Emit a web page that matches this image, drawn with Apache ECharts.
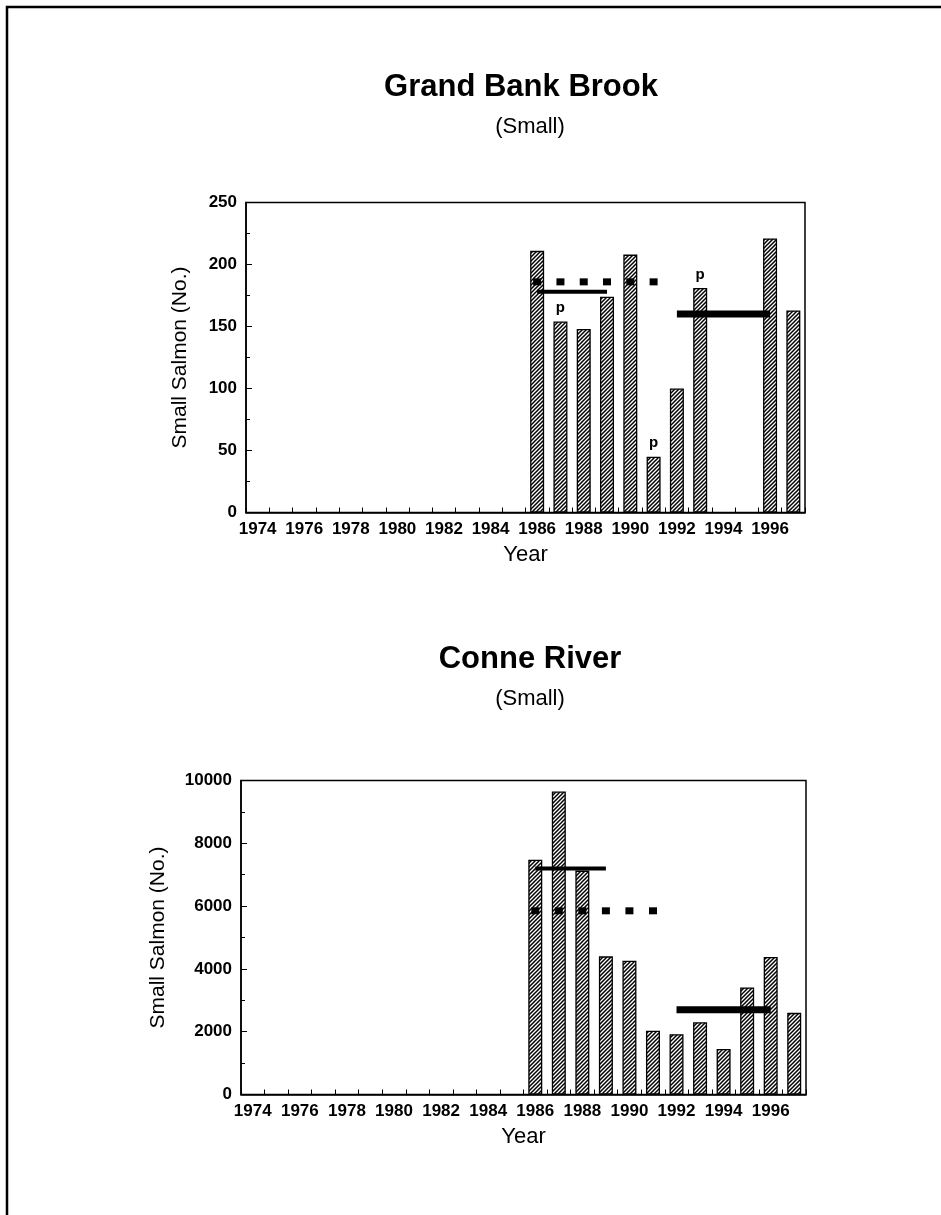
<!DOCTYPE html>
<html><head><meta charset="utf-8">
<script src="https://cdn.jsdelivr.net/npm/echarts@6/dist/echarts.min.js"></script>
<style>html,body{margin:0;padding:0;background:#fff}#c{width:941px;height:1215px}</style>
</head><body><div id="c"></div><script>
// ---- data ----
const years = ['1974','1975','1976','1977','1978','1979','1980','1981','1982','1983','1984','1985',
               '1986','1987','1988','1989','1990','1991','1992','1993','1994','1995','1996','1997'];
const gbbSmall = [null,null,null,null,null,null,null,null,null,null,null,null,
                  211,154,148,174,208,45,100,181,null,null,221,163];
const gbbFlags = ['','','','','','','','','','','','',
                  '','p','','','','p','','p','','','',''];
const gbbDotted = { value: 186, from: '1986', to: '1991' };
const gbbSolidA = { value: 178, from: '1986', to: '1989' };
const gbbSolidB = { value: 160, from: '1992', to: '1996' };
const conneSmall = [null,null,null,null,null,null,null,null,null,null,null,null,
                    7480,9650,7130,4400,4260,2030,1920,2300,1450,3410,4380,2600];
const conneDotted = { value: 5850, from: '1986', to: '1991' };
const conneSolidA = { value: 7200, from: '1986', to: '1989' };
const conneSolidB = { value: 2700, from: '1992', to: '1996' };
const gbbYTicks = { min: 0, max: 250, interval: 50 };
const conneYTicks = { min: 0, max: 10000, interval: 2000 };

// ---- helpers ----
const FONT = "'Liberation Sans', Arial, Helvetica, sans-serif";
function spanSeries(ref) {
  const i0 = years.indexOf(ref.from), i1 = years.indexOf(ref.to);
  return years.map((y, i) => (i >= i0 && i <= i1) ? ref.value : '-');
}
function hatch() {
  const c = document.createElement('canvas');
  const s = 4; c.width = s; c.height = s;
  const g = c.getContext('2d');
  g.fillStyle = '#fff'; g.fillRect(0, 0, s, s);
  g.strokeStyle = '#000'; g.lineWidth = 1.5;
  g.beginPath();
  g.moveTo(0, s); g.lineTo(s, 0);
  g.moveTo(-1, 1); g.lineTo(1, -1);
  g.moveTo(s - 1, s + 1); g.lineTo(s + 1, s - 1);
  g.stroke();
  return c;
}
const pattern = { image: hatch(), repeat: 'repeat' };

function barData(vals, flags) {
  return vals.map((v, i) => {
    if (v == null) return '-';
    if (flags && flags[i]) {
      return { value: v, label: { show: true, formatter: flags[i], position: 'top', distance: 6,
        fontFamily: FONT, fontWeight: 'bold', fontSize: 15, color: '#000' } };
    }
    return v;
  });
}

function xAxis(gi) {
  return {
    type: 'category', gridIndex: gi, data: years, boundaryGap: true,
    name: 'Year', nameLocation: 'middle', nameGap: 31,
    nameTextStyle: { fontFamily: FONT, fontSize: 22, color: '#000' },
    axisLine: { lineStyle: { color: '#000', width: 1.5 } },
    axisTick: { show: true, inside: true, length: 5, interval: 0, lineStyle: { color: '#000', width: 1 } },
    axisLabel: { interval: 1, fontFamily: FONT, fontWeight: 'bold', fontSize: 17, color: '#000', margin: 8 },
    splitLine: { show: false }
  };
}
function yAxis(gi, t, gap) {
  return {
    type: 'value', gridIndex: gi, min: t.min, max: t.max, interval: t.interval,
    name: 'Small Salmon (No.)', nameLocation: 'middle', nameGap: gap, nameRotate: 90,
    nameTextStyle: { fontFamily: FONT, fontSize: 21, color: '#000' },
    axisLine: { show: true, lineStyle: { color: '#000', width: 1.5 } },
    axisTick: { show: true, inside: true, length: 6, lineStyle: { color: '#000', width: 1 } },
    minorTick: { show: true, splitNumber: 2, length: 4, lineStyle: { color: '#000', width: 1 } },
    axisLabel: { fontFamily: FONT, fontWeight: 'bold', fontSize: 17, color: '#000', margin: 9,
      formatter: v => String(v) },
    splitLine: { show: false }, minorSplitLine: { show: false }
  };
}
function bars(gi, vals, flags) {
  return { type: 'bar', xAxisIndex: gi, yAxisIndex: gi, data: barData(vals, flags), barWidth: 14,
    itemStyle: { color: pattern, borderColor: '#000', borderWidth: 1.3 }, z: 2, silent: true };
}
function solid(gi, ref, w) {
  return { type: 'line', xAxisIndex: gi, yAxisIndex: gi, data: spanSeries(ref), symbol: 'none',
    lineStyle: { color: '#000', width: w, cap: 'butt' }, z: 5, silent: true };
}
function dotted(gi, ref) {
  return { type: 'line', xAxisIndex: gi, yAxisIndex: gi, data: spanSeries(ref), symbol: 'rect',
    symbolSize: [8, 7], showSymbol: true, itemStyle: { color: '#000' },
    lineStyle: { opacity: 0 }, z: 5, silent: true };
}

const chart = echarts.init(document.getElementById('c'), null, { renderer: 'canvas' });
chart.setOption({
  animation: false,
  backgroundColor: '#fff',
  title: [
    { text: 'Grand Bank Brook', left: 516, top: 67, textAlign: 'center',
      textStyle: { fontFamily: FONT, fontWeight: 'bold', fontSize: 31, color: '#000' } },
    { text: '(Small)', left: 525, top: 111, textAlign: 'center',
      textStyle: { fontFamily: FONT, fontWeight: 'normal', fontSize: 22, color: '#000' } },
    { text: 'Conne River', left: 525, top: 639, textAlign: 'center',
      textStyle: { fontFamily: FONT, fontWeight: 'bold', fontSize: 31, color: '#000' } },
    { text: '(Small)', left: 525, top: 683, textAlign: 'center',
      textStyle: { fontFamily: FONT, fontWeight: 'normal', fontSize: 22, color: '#000' } }
  ],
  grid: [
    { left: 246, right: 136, top: 202.5, bottom: 702.5, show: true, borderColor: '#000', borderWidth: 1.5, backgroundColor: 'transparent' },
    { left: 241, right: 135, top: 780.5, bottom: 120.5, show: true, borderColor: '#000', borderWidth: 1.5, backgroundColor: 'transparent' }
  ],
  xAxis: [xAxis(0), xAxis(1)],
  yAxis: [yAxis(0, gbbYTicks, 55), yAxis(1, conneYTicks, 72)],
  series: [
    bars(0, gbbSmall, gbbFlags),
    dotted(0, gbbDotted),
    solid(0, gbbSolidA, 4),
    solid(0, gbbSolidB, 7),
    bars(1, conneSmall, null),
    dotted(1, conneDotted),
    solid(1, conneSolidA, 4),
    solid(1, conneSolidB, 7)
  ],
  graphic: [
    { type: 'polyline', silent: true, shape: { points: [[7, 1215], [7, 7], [941, 7]] },
      style: { stroke: '#000', lineWidth: 2.5, fill: null } }
  ]
});
</script></body></html>
